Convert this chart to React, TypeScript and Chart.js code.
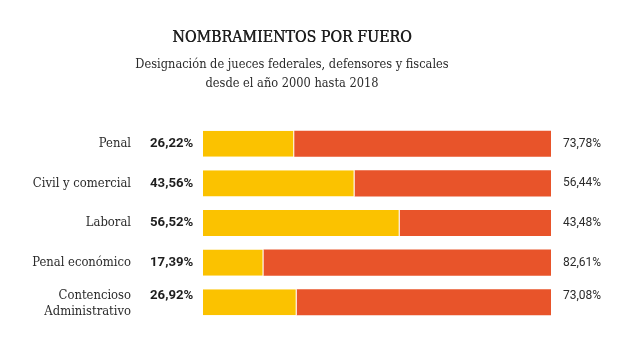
import React, { useEffect, useRef } from "react";
import { Chart, registerables } from "chart.js";

Chart.register(...registerables);

const categories: string[][] = [
  ["Penal"],
  ["Civil y comercial"],
  ["Laboral"],
  ["Penal económico"],
  ["Contencioso", "Administrativo"],
];
const yellowValues = [26.22, 43.56, 56.52, 17.39, 26.92];
const redValues = [73.78, 56.44, 43.48, 82.61, 73.08];
const yellowLabels = ["26,22%", "43,56%", "56,52%", "17,39%", "26,92%"];
const redLabels = ["73,78%", "56,44%", "43,48%", "82,61%", "73,08%"];

const TITLE = "NOMBRAMIENTOS POR FUERO";
const SUBTITLE = ["Designación de jueces federales, defensores y fiscales", "desde el año 2000 hasta 2018"];

const SERIF = "'DejaVu Serif Condensed', 'DejaVu Serif'";

const labelPlugin = {
  id: "labelPlugin",
  afterDraw(chart: any) {
    const ctx = chart.ctx;
    const y = chart.scales.y;
    const area = chart.chartArea;
    ctx.save();
    ctx.fillStyle = "#1e1e1e";
    ctx.textAlign = "center";
    ctx.textBaseline = "middle";
    ctx.font = "15.8px " + SERIF;
    ctx.fillText(TITLE, 292, 38);
    ctx.fillText(TITLE, 292.4, 38);
    ctx.font = "12.7px " + SERIF;
    ctx.fillStyle = "#2b2b2b";
    ctx.fillText(SUBTITLE[0], 292, 65);
    ctx.fillText(SUBTITLE[1], 292, 84);

    categories.forEach((lines, i) => {
      const cy = y.getPixelForValue(i);
      const top = lines.length > 1 ? cy - 6.5 : cy;
      ctx.font = "12.9px " + SERIF;
      ctx.fillStyle = "#2b2b2b";
      ctx.textAlign = "right";
      lines.forEach((l, j) => ctx.fillText(l, 131, top + j * 15.5));
      ctx.font = "bold 13.2px Roboto";
      ctx.fillStyle = "#1e1e1e";
      ctx.textAlign = "left";
      ctx.fillText(yellowLabels[i], 150, top);
      ctx.font = "12px Roboto";
      ctx.fillStyle = "#2b2b2b";
      ctx.fillText(redLabels[i], area.right + 12, top);
    });
    ctx.restore();
  },
};

export default function App() {
  const ref = useRef<HTMLCanvasElement>(null);
  useEffect(() => {
    document.body.style.margin = "0";
    const chart = new Chart(ref.current!, {
      type: "bar",
      data: {
        labels: categories.map((c) => c.join(" ")),
        datasets: [
          {
            data: yellowValues,
            backgroundColor: "#FBC200",
            borderColor: "#ffffff",
            borderWidth: { left: 0, right: 1, top: 0, bottom: 0 },
            borderSkipped: false,
            barPercentage: 0.66,
            categoryPercentage: 1,
          },
          {
            data: redValues,
            backgroundColor: "#E8542A",
            borderWidth: 0,
            barPercentage: 0.66,
            categoryPercentage: 1,
          },
        ],
      },
      options: {
        indexAxis: "y",
        responsive: false,
        animation: false,
        layout: { padding: { left: 203, right: 81, top: 124, bottom: 37 } },
        plugins: { legend: { display: false }, tooltip: { enabled: false }, title: { display: false } },
        scales: {
          x: { stacked: true, min: 0, max: 100, display: false },
          y: { stacked: true, display: false },
        },
      },
      plugins: [labelPlugin],
    });
    return () => chart.destroy();
  }, []);
  return (
    <div style={{ width: 632, height: 359, background: "#fff" }}>
      <canvas ref={ref} width={632} height={359} />
    </div>
  );
}
